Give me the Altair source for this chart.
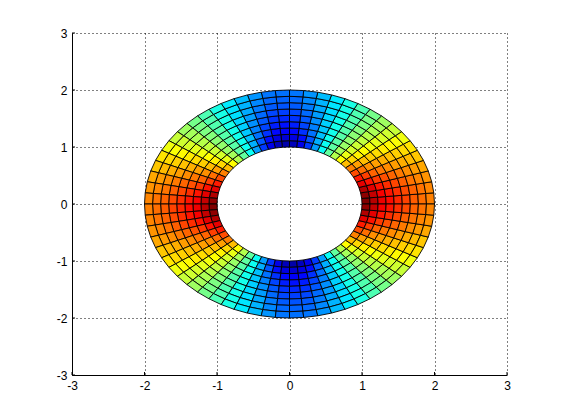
import math
import altair as alt
import pandas as pd

# ring edges (r) and number of angular sectors
radii = [1.0, 1.111, 1.222, 1.333, 1.444, 1.556, 1.667, 1.778, 1.889, 2.0]
sectors = 64

# colour value per ring (inner to outer) over a quarter turn (0 to 90 degrees);
# the other quadrants mirror it
ring0 = [1.000, .985, .950, .900, .850, .800, .750, .690, .625, .550, .470, .385, .280, .180, .100, .050, .030]
ring1 = [.945, .932, .902, .858, .813, .767, .719, .664, .604, .537, .466, .388, .297, .209, .137, .092, .075]
ring2 = [.892, .882, .855, .818, .777, .735, .690, .638, .584, .524, .461, .391, .312, .236, .173, .132, .118]
ring3 = [.865, .855, .831, .797, .758, .719, .674, .625, .574, .518, .459, .393, .321, .250, .192, .153, .141]
ring4 = [.837, .829, .807, .776, .739, .702, .659, .612, .563, .511, .457, .395, .329, .265, .211, .174, .163]
ring5 = [.810, .803, .783, .756, .721, .686, .644, .599, .553, .504, .455, .396, .337, .279, .229, .194, .186]
ring6 = [.785, .779, .761, .737, .704, .671, .630, .587, .543, .498, .453, .398, .345, .292, .246, .213, .206]
ring7 = [.767, .762, .745, .723, .692, .660, .620, .578, .537, .494, .451, .399, .350, .301, .258, .227, .221]
ring8 = [.750, .745, .730, .710, .680, .650, .610, .570, .530, .490, .450, .400, .355, .310, .270, .240, .235]
rings = [ring0, ring1, ring2, ring3, ring4, ring5, ring6, ring7, ring8]

ticks = [-3, -2, -1, 0, 1, 2, 3]
jet_domain = [0, .125, .375, .625, .875, 1]
jet_range = ["#00008f", "#0000ff", "#00ffff", "#ffff00", "#ff0000", "#800000"]

rows = []
for ir, ring in enumerate(rings):
    for i in range(sectors):
        j = i % 32
        if j > 16:
            j = 32 - j
        corners = [(ir, i), (ir + 1, i), (ir + 1, i + 1), (ir, i + 1), (ir, i)]
        for k, (a, b) in enumerate(corners):
            t = 2 * math.pi * b / sectors
            rows.append({
                "x": radii[a] * math.cos(t),
                "y": radii[a] * math.sin(t),
                "cell": ir * sectors + i,
                "k": k,
                "v": ring[j],
            })
cells = pd.DataFrame(rows)

x_scale = alt.Scale(domain=[-3, 3], nice=False, zero=False)
y_scale = alt.Scale(domain=[-3, 3], nice=False, zero=False)


def axis(orient):
    return alt.Axis(
        values=ticks, title=None, orient=orient, grid=True, gridColor="#000000",
        gridDash=[1, 3], gridOpacity=1, gridWidth=1, domainColor="#000000",
        domainWidth=1, ticks=False, labelExpr="'' + datum.value",
        labelFont="Liberation Sans", labelFontSize=12, labelColor="#000000",
        labelPadding=5, labelFontWeight="normal", labelFlush=False, labelOverlap=False,
    )


surface = alt.Chart(cells).mark_line(
    stroke="#000000", strokeWidth=0.9, strokeJoin="miter", clip=False
).encode(
    x=alt.X("x:Q", scale=x_scale, axis=axis("bottom")),
    y=alt.Y("y:Q", scale=y_scale, axis=axis("left")),
    detail="cell:N",
    order="k:Q",
    fill=alt.Fill("v:Q", scale=alt.Scale(domain=jet_domain, range=jet_range, interpolate="rgb"), legend=None),
)

xt = alt.Chart(pd.DataFrame({"t": ticks})).mark_rule(color="#000000", strokeWidth=1).encode(
    x=alt.X("t:Q", scale=x_scale), y=alt.value(342), y2=alt.value(339))
yt = alt.Chart(pd.DataFrame({"t": ticks})).mark_rule(color="#000000", strokeWidth=1).encode(
    y=alt.Y("t:Q", scale=y_scale), x=alt.value(0), x2=alt.value(3))

chart = alt.layer(surface, xt, yt).properties(
    width=435, height=342,
    padding={"left": 64, "top": 25, "right": 46, "bottom": 37},
    autosize=alt.AutoSizeParams(type="none"),
    background="#ffffff",
).configure_view(stroke=None)

chart.save("out.html", embed_options={"renderer": "svg", "actions": False})
